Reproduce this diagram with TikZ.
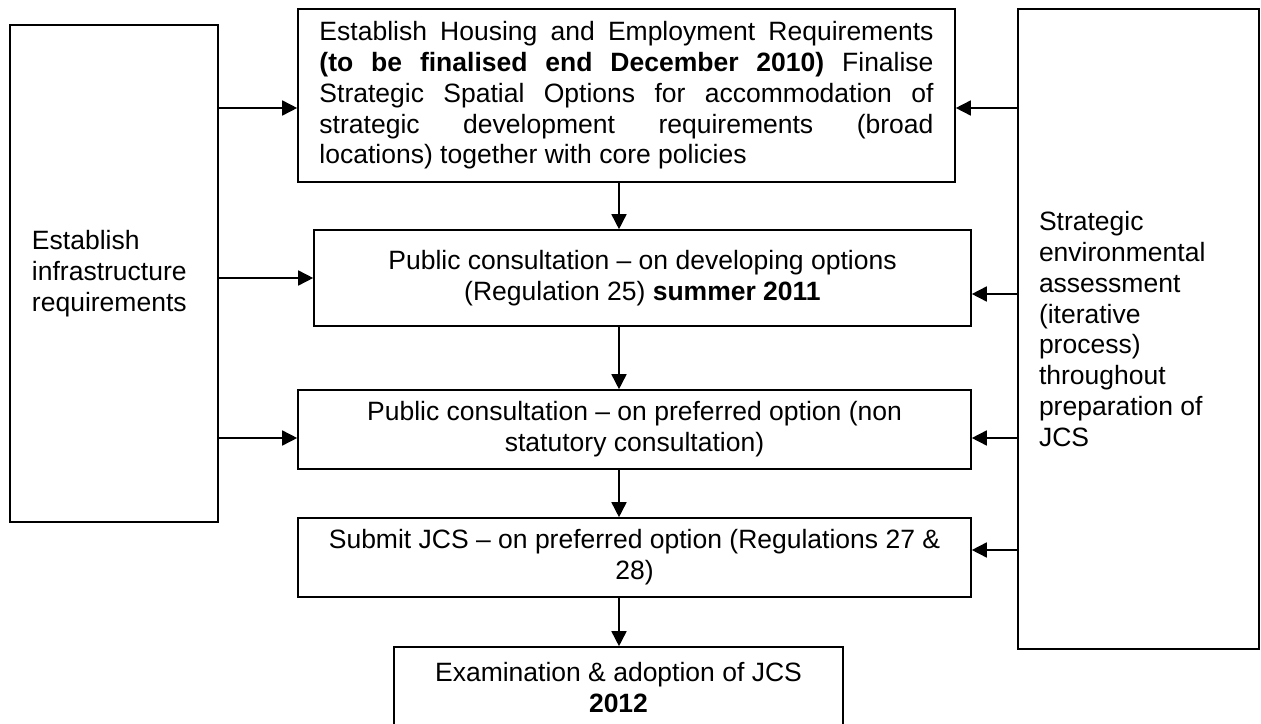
\documentclass[tikz,border=0pt]{standalone}
\usepackage{fontspec}
\setmainfont{Liberation Sans}
\usetikzlibrary{arrows.meta}
\tikzset{
  box/.style={draw=black, line width=1.6bp, inner sep=0pt, fill=white,
    font=\fontsize{26.5bp}{30.8bp}\selectfont},
  arr/.style={line width=1.6bp, -{Triangle[length=15bp,width=15bp]}}
}
\newcommand{\nsp}{\spaceskip=0pt\relax\xspaceskip=0pt\relax}
\newcommand{\jline}[1]{\makebox[614bp][s]{\spaceskip=0pt\relax\xspaceskip=0pt\relax #1}}
\begin{document}
\begin{tikzpicture}[x=1bp,y=-1bp]
\useasboundingbox (0,0) rectangle (1261,724);
% boxes
\node[box, minimum width=208bp, minimum height=497bp, text width=164bp, align=left] (L) at (114,273.5)
  {\nsp Establish\\infrastructure\\requirements};
\node[box, minimum width=657bp, minimum height=173bp, text width=614bp, align=left] (T) at (626.5,95.5)
  {\nsp\jline{Establish Housing and Employment Requirements}\\
   \jline{\textbf{(to be finalised end December 2010)} Finalise}\\
   \jline{Strategic Spatial Options for accommodation of}\\
   \jline{strategic development requirements (broad}\\
   locations) together with core policies};
\node[box, minimum width=241bp, minimum height=640bp, text width=199bp, align=left] (R) at (1138.5,329)
  {\nsp Strategic\\environmental\\assessment\\(iterative\\process)\\throughout\\preparation of\\JCS};
\node[box, minimum width=657bp, minimum height=96bp, align=center] (B2) at (642.5,278)
  {Public consultation – on developing options\\(Regulation 25) \textbf{summer 2011}};
\node[box, minimum width=673bp, minimum height=79bp, align=center] (B3) at (634.5,429.5)
  {Public consultation – on preferred option (non\\statutory consultation)};
\node[box, minimum width=673bp, minimum height=79bp, align=center] (B4) at (634.5,557.5)
  {Submit JCS – on preferred option (Regulations 27 \&\\28)};
\node[box, minimum width=449bp, minimum height=81bp, align=center] (B5) at (618.5,687.5)
  {Examination \& adoption of JCS\\\textbf{2012}};
% helper coordinates
\coordinate (ya) at (0,108);
\coordinate (yb) at (0,278);
\coordinate (yc) at (0,294);
\coordinate (yd) at (0,438);
\coordinate (ye) at (0,550);
\coordinate (xm) at (619,0);
% left arrows
\draw[arr] (L.east |- ya) -- (T.west |- ya);
\draw[arr] (L.east |- yb) -- (B2.west |- yb);
\draw[arr] (L.east |- yd) -- (B3.west |- yd);
% right arrows
\draw[arr] (R.west |- ya) -- (T.east |- ya);
\draw[arr] (R.west |- yc) -- (B2.east |- yc);
\draw[arr] (R.west |- yd) -- (B3.east |- yd);
\draw[arr] (R.west |- ye) -- (B4.east |- ye);
% vertical arrows
\draw[arr] (xm |- T.south) -- (xm |- B2.north);
\draw[arr] (xm |- B2.south) -- (xm |- B3.north);
\draw[arr] (xm |- B3.south) -- (xm |- B4.north);
\draw[arr] (xm |- B4.south) -- (xm |- B5.north);
\end{tikzpicture}
\end{document}
